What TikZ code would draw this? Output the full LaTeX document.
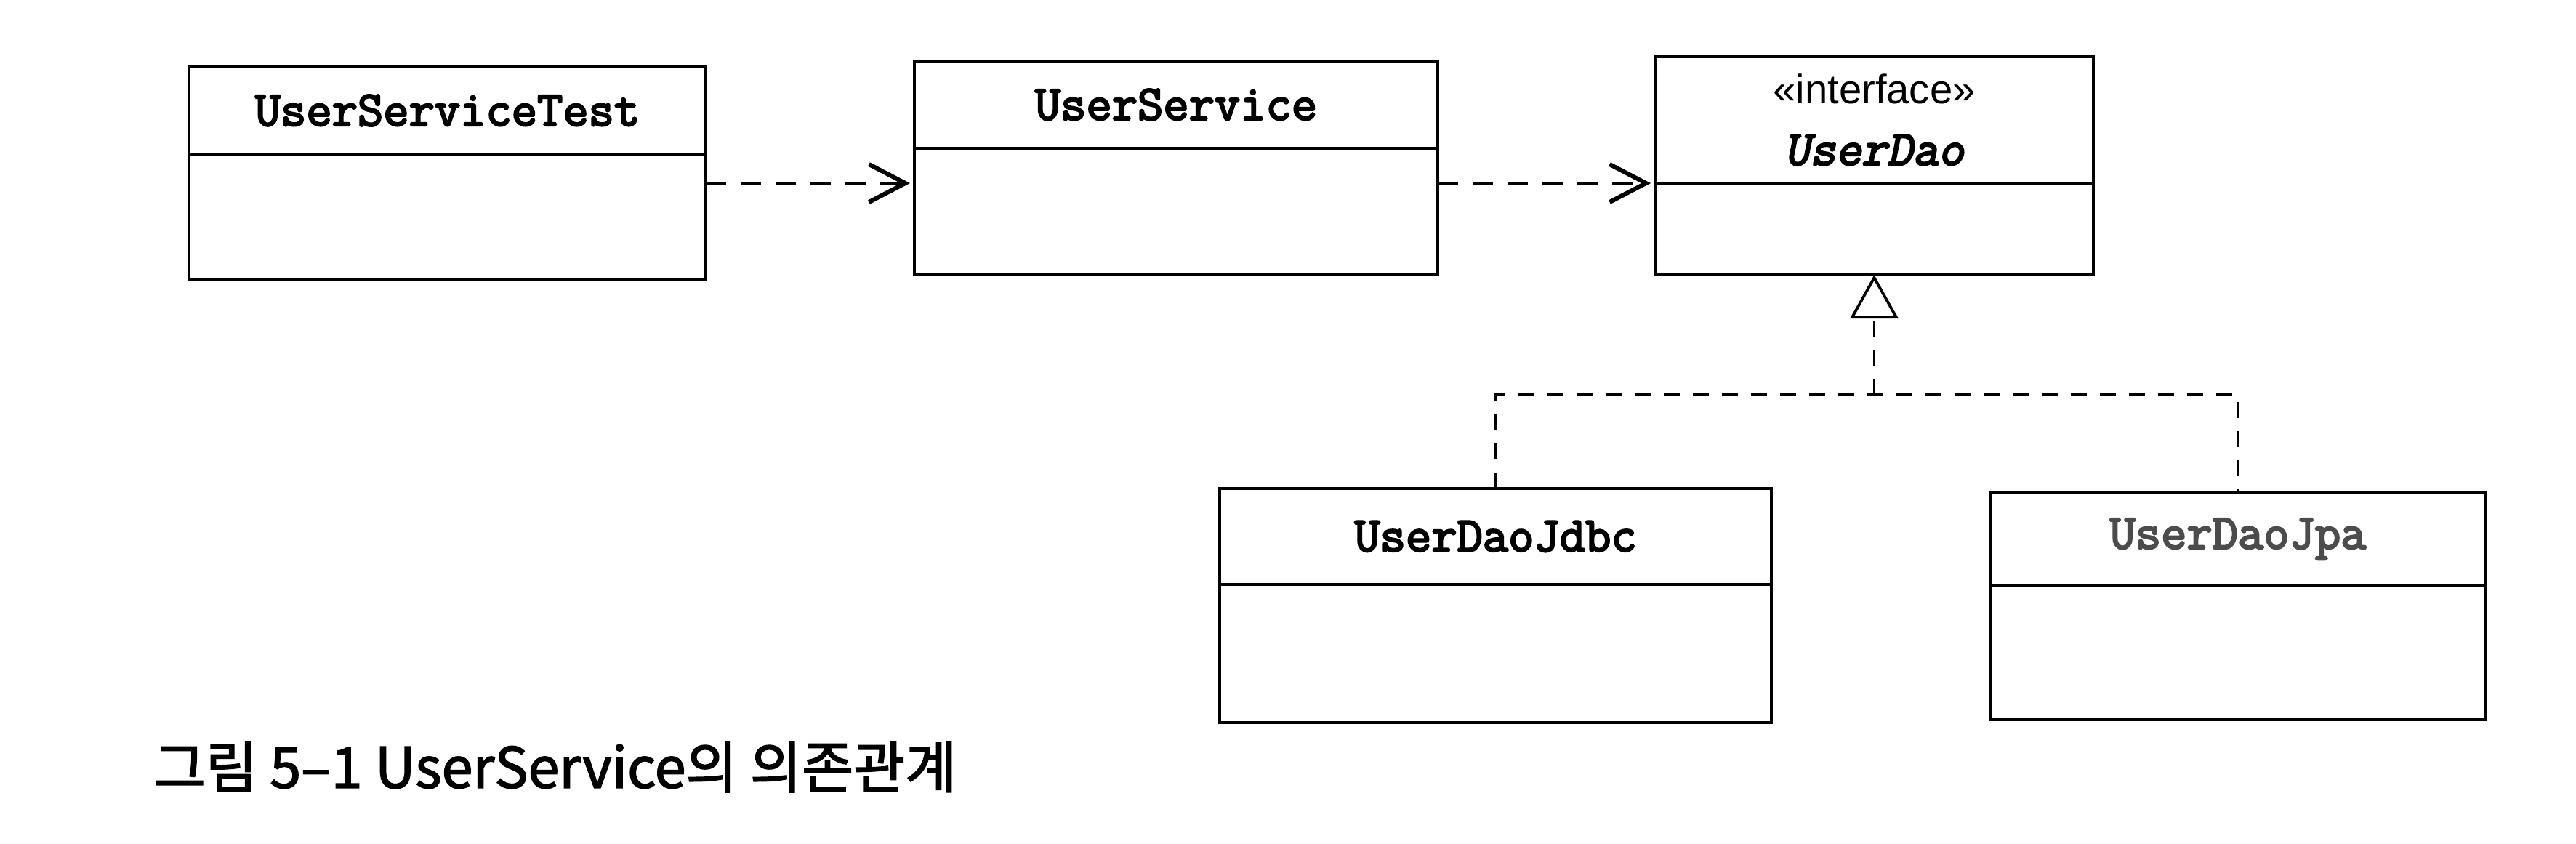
\documentclass[tikz,border=0pt]{standalone}
\usepackage{fontspec}
\setmainfont{Liberation Sans}
\newfontfamily\umlfont{Latin Modern Mono}[FakeBold=3.5]
\newfontfamily\umlslfont{Latin Modern Mono}[FakeBold=3.5, FakeSlant=0.2]
\newfontfamily\cjk{Noto Sans CJK KR}[FakeBold=2]
\usetikzlibrary{arrows.meta, positioning}

\begin{document}
\begin{tikzpicture}[
      classhead/.style 2 args={draw, line width=0.38mm, outer sep=0pt,
        inner sep=0pt, minimum width=#1, minimum height=#2, align=center,
        font=\umlfont\fontsize{19.5}{24}\selectfont},
      classbody/.style 2 args={draw, line width=0.38mm, outer sep=0pt,
        minimum width=#1, minimum height=#2},
      depend/.style={line width=0.5mm, dash pattern=on 2.8mm off 2mm,
        -{Straight Barb[length=5mm, width=5.2mm, line width=0.6mm]},
        shorten >=0.6mm},
      realize/.style={line width=0.38mm, dash pattern=on 2.2mm off 1.8mm}
    ]
      \useasboundingbox (0,0) rectangle (354.4mm,-116mm);
      % top row
      \node[classhead={71.1mm}{12.2mm}, anchor=north west] (usthead)
        at (26mm,-9.1mm) {UserServiceTest};
      \node[classbody={71.1mm}{17.2mm}, below=0pt of usthead] (ust) {};
      \node[classhead={72mm}{12mm}, right=28.7mm of usthead.north east,
        anchor=north west, yshift=0.7mm] (ushead) {UserService};
      \node[classbody={72mm}{17.4mm}, below=0pt of ushead] (us) {};
      \node[classhead={60.3mm}{17.4mm}, right=29.9mm of ushead.north east,
        anchor=north west, yshift=0.6mm] (udhead)
        {{\rmfamily\fontsize{16}{19}\selectfont «interface»}\\\umlslfont UserDao};
      \node[classbody={60.3mm}{12.6mm}, below=0pt of udhead] (ud) {};
      % implementations
      \node[classhead={75.9mm}{13.2mm}, below=29.4mm of ud, xshift=-52.1mm]
        (jdbchead) {UserDaoJdbc};
      \node[classbody={75.9mm}{19mm}, below=0pt of jdbchead] (jdbc) {};
      \node[classhead={68.2mm}{12.9mm}, below=29.9mm of ud, xshift=50.05mm,
        text=black!70] (jpahead) {UserDaoJpa};
      \node[classbody={68.2mm}{18.4mm}, below=0pt of jpahead] (jpa) {};
      % dependencies
      \draw[depend] (ust.east |- udhead.south) -- (us.west |- udhead.south);
      \draw[depend] (us.east |- udhead.south) -- (udhead.south west);
      % realization
      \coordinate[below=16.5mm of ud] (join);
      \draw[realize] (jdbchead.north) |- (join) -| (jpahead.north);
      \draw[realize, -{Triangle[open, length=6mm, width=6.6mm, line width=0.38mm, fill=white]}]
        (join) -- (ud.south);
      % caption
      \node[anchor=west, inner sep=0pt, font=\cjk\fontsize{22}{26}\selectfont]
        (caption) at (21.1mm,-105.5mm) {그림 5–1 UserService의 의존관계};
    \end{tikzpicture}
\end{document}
